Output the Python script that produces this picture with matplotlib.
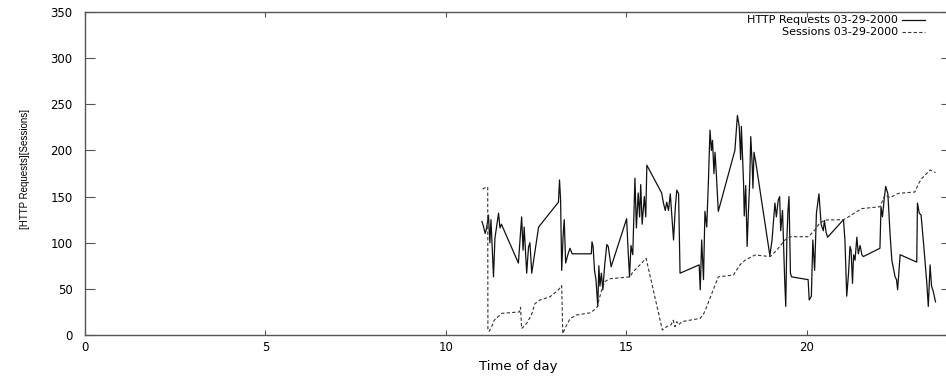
import matplotlib
matplotlib.use('Agg')
from matplotlib import pyplot as plt

# HTTP requests per time of day (hours)
req_hours = [11.00, 11.04, 11.09, 11.13, 11.18, 11.22, 11.25, 11.32, 11.36, 11.46,
             11.50, 11.54, 12.01, 12.10, 12.14, 12.17, 12.24, 12.29, 12.33, 12.38,
             12.57, 13.12, 13.15, 13.18, 13.21, 13.25, 13.28, 13.32, 13.38, 13.44,
             13.50, 14.03, 14.05, 14.08, 14.12, 14.16, 14.21, 14.24, 14.27, 14.31,
             14.35, 14.40, 14.46, 14.50, 14.58, 15.01, 15.05, 15.09, 15.13, 15.18,
             15.24, 15.28, 15.33, 15.37, 15.40, 15.44, 15.50, 15.54, 15.57, 15.98,
             16.03, 16.08, 16.12, 16.17, 16.22, 16.28, 16.31, 16.36, 16.40, 16.45,
             16.49, 17.02, 17.05, 17.09, 17.14, 17.18, 17.23, 17.28, 17.32, 17.36,
             17.39, 17.43, 17.46, 17.49, 17.55, 18.01, 18.08, 18.13, 18.17, 18.19,
             18.25, 18.27, 18.31, 18.35, 18.38, 18.42, 18.45, 18.49, 18.51, 18.54,
             18.59, 18.98, 19.04, 19.12, 19.16, 19.21, 19.25, 19.28, 19.33, 19.39,
             19.42, 19.45, 19.48, 19.51, 19.55, 19.58, 20.04, 20.07, 20.13, 20.17,
             20.22, 20.27, 20.34, 20.40, 20.46, 20.49, 20.54, 20.58, 21.02, 21.06,
             21.11, 21.16, 21.20, 21.23, 21.27, 21.30, 21.34, 21.39, 21.43, 21.48,
             21.53, 21.57, 22.03, 22.06, 22.10, 22.15, 22.19, 22.25, 22.31, 22.36,
             22.45, 22.49, 22.52, 22.59, 23.05, 23.07, 23.12, 23.17, 23.24, 23.33,
             23.37, 23.42, 23.46, 23.51, 23.57]
req_values = [123, 118, 110, 116, 130, 100, 125, 63, 105, 132,
              116, 120, 78, 128, 92, 117, 67, 95, 100, 67,
              117, 144, 168, 146, 70, 108, 125, 78, 87, 94,
              88, 88, 101, 96, 70, 60, 31, 75, 53, 67,
              49, 75, 98, 96, 74, 126, 92, 63, 97, 87,
              170, 116, 154, 128, 163, 120, 150, 128, 184, 154,
              143, 135, 144, 135, 153, 120, 103, 139, 157, 153,
              67, 76, 49, 103, 60, 134, 117, 171, 222, 200,
              211, 175, 198, 179, 134, 200, 238, 226, 190, 226,
              165, 129, 162, 96, 129, 165, 215, 184, 159, 198,
              187, 86, 103, 143, 128, 146, 150, 113, 135, 60,
              31, 103, 134, 150, 67, 63, 60, 38, 42, 103,
              70, 132, 153, 120, 113, 124, 111, 106, 125, 103,
              42, 67, 96, 92, 56, 87, 81, 106, 88, 97,
              87, 85, 94, 139, 128, 148, 161, 153, 110, 81,
              63, 60, 49, 87, 79, 143, 132, 130, 99, 56,
              31, 76, 53, 47, 36]

# sessions per time of day (hours)
ses_hours = [11.02, 11.12, 11.16, 11.165, 11.20, 11.27, 11.34, 11.55, 12.04, 12.07,
             12.10, 12.24, 12.37, 12.47, 12.61, 12.89, 13.12, 13.21, 13.24, 13.30,
             13.44, 13.62, 13.99, 14.18, 14.32, 14.41, 14.55, 15.10, 15.19, 15.33,
             15.55, 16.00, 16.12, 16.24, 16.30, 16.35, 16.40, 16.45, 16.54, 17.04,
             17.13, 17.23, 17.37, 17.55, 17.97, 18.15, 18.29, 18.57, 18.99, 19.17,
             19.40, 19.54, 20.05, 20.23, 20.35, 20.51, 21.02, 21.16, 21.30, 21.53,
             22.03, 22.17, 22.31, 22.54, 23.00, 23.10, 23.19, 23.42, 23.57]
ses_values = [158, 160.6, 160, 5, 4, 9, 16, 23.5, 25, 30,
              7, 12.6, 21.7, 34, 38, 41.5, 49, 53.5, 1.5, 7,
              17.6, 21.7, 24, 29, 49, 58, 61, 63, 68.6, 74,
              83, 5.4, 9, 11, 16, 9, 14.5, 11, 14.5, 18,
              21.7, 30.7, 45, 63, 65, 76, 81, 86.7, 85, 92,
              103, 106.5, 106.5, 114, 121, 124.6, 125, 128, 131.6, 137,
              139, 151.7, 149, 153.5, 155, 164, 169.7, 178.8, 176]

labels = ['HTTP Requests 03-29-2000', 'Sessions 03-29-2000']

plt.rcParams['font.family'] = ['DejaVu Sans']
frame = '#555555'

fig = plt.figure(figsize=(9.46, 3.76), dpi=100)
# the right border of the original plot falls just outside the picture
ax = fig.add_axes([0.0899, 0.109, 0.9154, 0.859])

ax.plot(req_hours, req_values, '-', color='#111111', linewidth=0.9)
ax.plot(ses_hours, ses_values, linestyle=(0, (3, 2)), color='#333333', linewidth=0.8)

ax.set_xlim(0, 24)
ax.set_ylim(0, 350)
ax.set_xticks([0, 5, 10, 15, 20])
ax.set_yticks(range(0, 351, 50))

for side in ax.spines.values():
    side.set_color(frame)
    side.set_linewidth(1.0)

ax.tick_params(direction='in', top=True, right=True, colors=frame,
               labelcolor='black', labelsize=8.5)
ax.tick_params(axis='y', length=7, pad=9)
ax.tick_params(axis='x', length=3.6, pad=4.5)

ax.set_xlabel('Time of day', fontsize=9.5, labelpad=4)
ax.set_ylabel('[HTTP Requests][Sessions]', fontsize=7,
              family=['Liberation Sans', 'DejaVu Sans'])
ax.yaxis.set_label_coords(-0.064, 0.515)

# gnuplot style key: right aligned text, sample line after it
key_styles = [dict(linestyle='-', color='#111111', linewidth=0.9),
              dict(linestyle=(0, (3, 2)), color='#333333', linewidth=0.8)]
for i, (label, style) in enumerate(zip(labels, key_styles)):
    y = 0.9768 - i * 0.0387
    ax.text(0.9388, y, label, transform=ax.transAxes, ha='right', va='center',
            fontsize=8)
    ax.plot([0.9434, 0.970], [y, y], transform=ax.transAxes, clip_on=False, **style)

fig.savefig('out.png', dpi=100)
